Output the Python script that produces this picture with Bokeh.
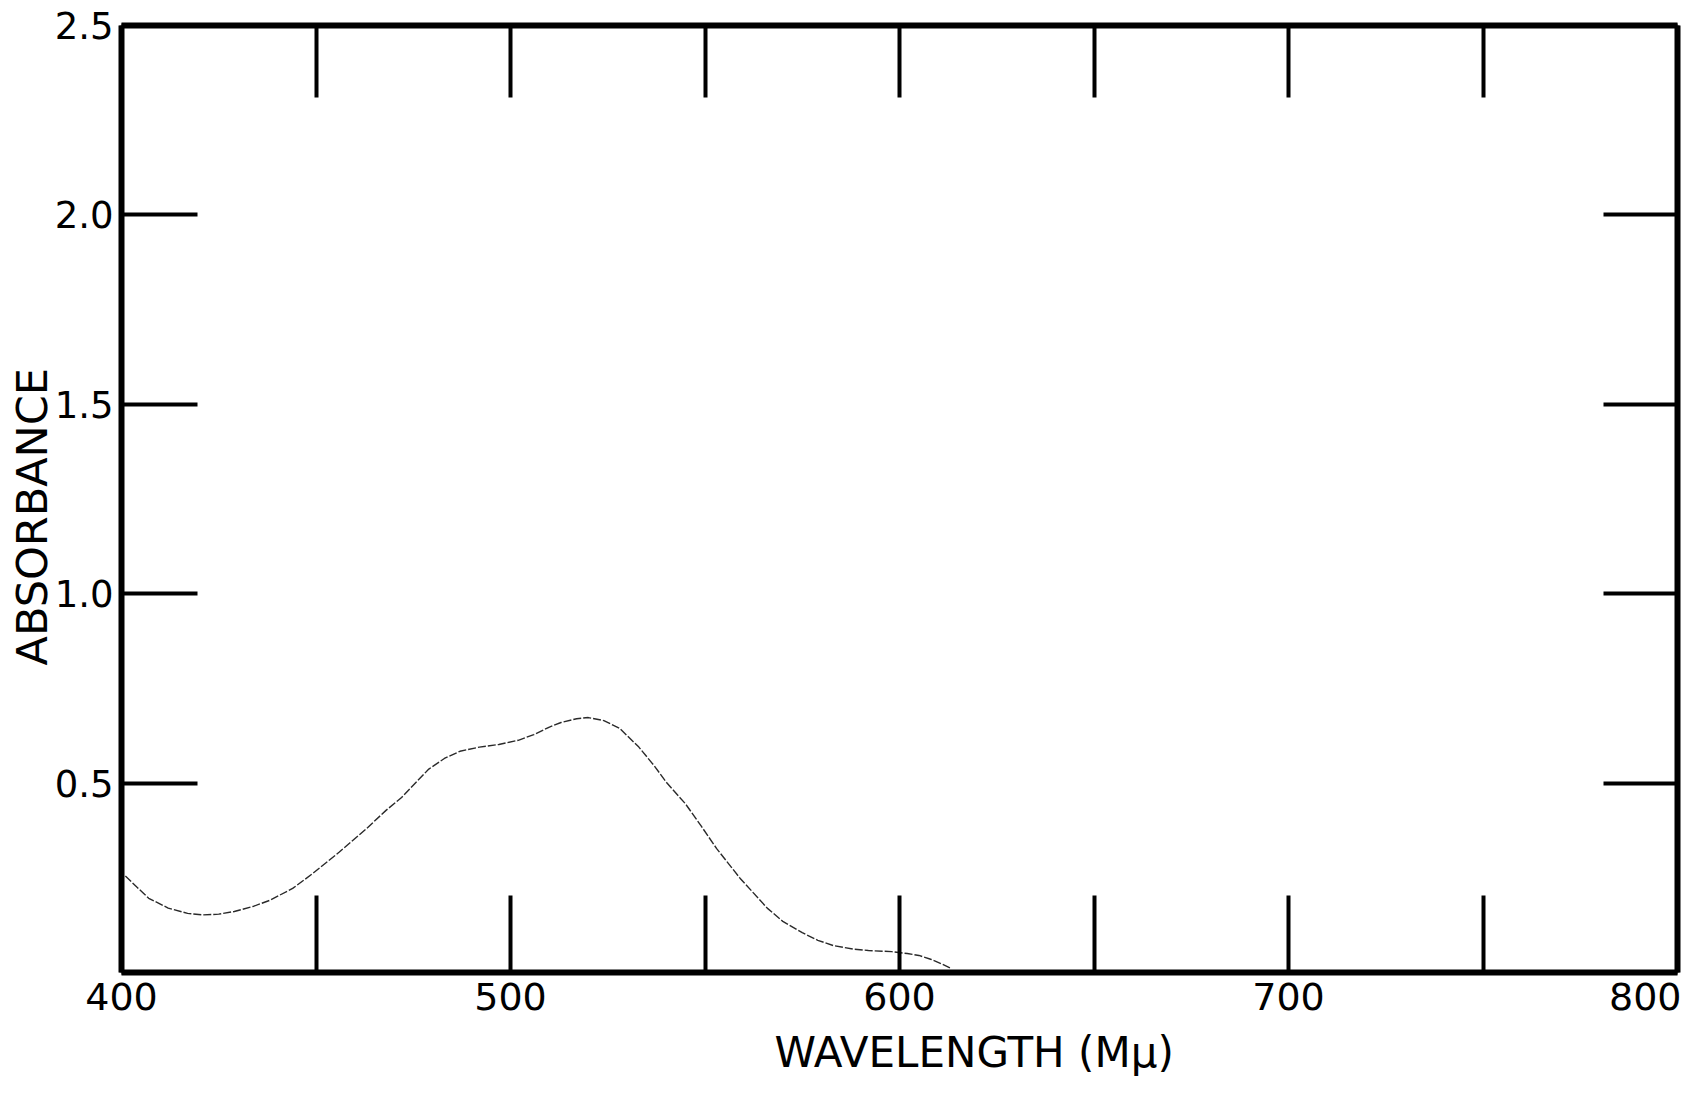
from bokeh.plotting import figure
from bokeh.models import Range1d, LinearAxis, FixedTicker, Title
from bokeh.embed import file_html
from bokeh.resources import INLINE

# Absorbance spectrum
wavelength = [401, 404, 407, 412, 417, 421, 425, 429, 434, 438, 444, 449, 456, 463, 468, 472,
              476, 479, 483, 487, 492, 497, 502, 506, 510, 513, 517, 520, 524, 528, 533, 537,
              540, 545, 549, 553, 559, 566, 570, 575, 579, 583, 588, 592, 598, 602, 605, 608, 611, 613]
absorbance = [0.255, 0.225, 0.196, 0.170, 0.156, 0.152, 0.154, 0.161, 0.175, 0.190, 0.222, 0.260, 0.318, 0.380, 0.428, 0.462,
              0.505, 0.537, 0.565, 0.584, 0.595, 0.602, 0.613, 0.628, 0.648, 0.660, 0.670, 0.673, 0.665, 0.645, 0.595, 0.545,
              0.503, 0.445, 0.387, 0.327, 0.249, 0.170, 0.135, 0.105, 0.085, 0.071, 0.062, 0.058, 0.055, 0.050, 0.045, 0.035, 0.022, 0.012]

x_ticks = [400, 450, 500, 550, 600, 650, 700, 750, 800]
x_tick_labels = {400: "400", 450: "", 500: "500", 550: "", 600: "600", 650: "", 700: "700", 750: "", 800: "800"}
y_ticks = [0, 0.5, 1.0, 1.5, 2.0, 2.5]
y_tick_labels = {0: "", 0.5: "0.5", 1.0: "1.0", 1.5: "1.5", 2.0: "2.0", 2.5: "2.5"}
x_title = "WAVELENGTH  (Mμ)"
y_title = "ABSORBANCE"

FONT = "DejaVu Sans"

p = figure(width=1681, height=1096, output_backend="svg", toolbar_location=None,
           x_range=Range1d(400, 800), y_range=Range1d(0, 2.5),
           x_axis_location=None, y_axis_location=None,
           min_border_left=121, min_border_right=4, min_border_top=25, min_border_bottom=124)
p.grid.visible = False
p.outline_line_color = None
p.background_fill_color = "white"
p.border_fill_color = "white"

def style_axis(ax, tick_in, show_labels):
    ax.axis_line_width = 6
    ax.axis_line_color = "black"
    ax.major_tick_in = tick_in
    ax.major_tick_out = 0
    ax.major_tick_line_width = 4
    ax.major_tick_line_color = "black"
    ax.minor_tick_line_color = None
    ax.major_label_text_font = FONT
    ax.major_label_text_color = "black"
    if not show_labels:
        ax.major_label_text_font_size = "0px"
        ax.major_label_standoff = 0

bottom = LinearAxis(ticker=FixedTicker(ticks=x_ticks), major_label_overrides=x_tick_labels)
style_axis(bottom, 77, True)
bottom.major_label_text_font_size = "38px"
bottom.major_label_standoff = 10
p.add_layout(bottom, "below")

top = LinearAxis(ticker=FixedTicker(ticks=x_ticks))
style_axis(top, 72, False)
p.add_layout(top, "above")

left = LinearAxis(ticker=FixedTicker(ticks=y_ticks), major_label_overrides=y_tick_labels)
style_axis(left, 76, True)
left.major_label_text_font_size = "37px"
left.major_label_standoff = 8
p.add_layout(left, "left")

right = LinearAxis(ticker=FixedTicker(ticks=y_ticks))
style_axis(right, 74, False)
p.add_layout(right, "right")

p.add_layout(Title(text=x_title, align="left", offset=653, standoff=0,
                   padding=dict(left=0, right=0, top=13, bottom=0),
                   text_font=FONT, text_font_size="42px", text_font_style="normal",
                   text_color="black"), "below")
p.add_layout(Title(text=y_title, align="left", offset=307, standoff=-11,
                   text_font=FONT, text_font_size="43px", text_font_style="normal",
                   text_color="black"), "left")

p.line(wavelength, absorbance, line_color="#2a2a2a", line_width=1.4, line_dash="8 2")

open("out.html", "w").write(file_html(p, INLINE))
